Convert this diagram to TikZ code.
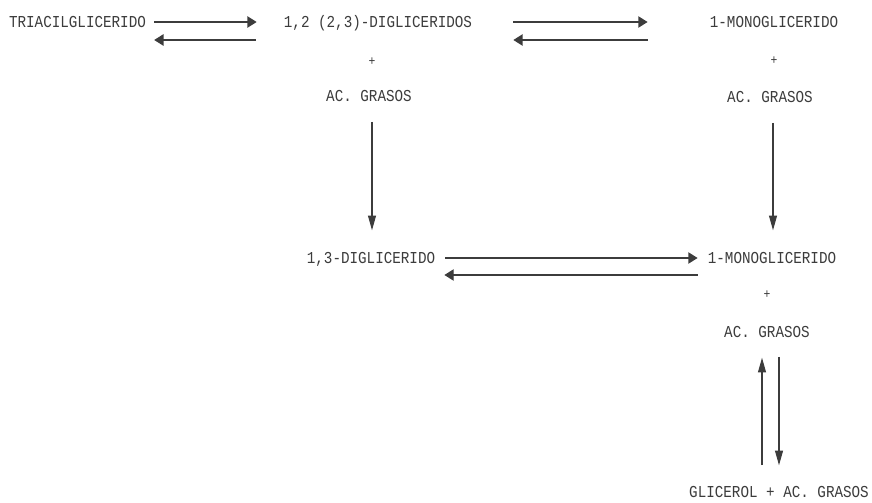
\documentclass[tikz,border=0pt]{standalone}
\usepackage{fontspec}
\newfontfamily\plotfont[FakeStretch=0.855]{Liberation Mono}
\usetikzlibrary{arrows.meta,calc}
\definecolor{ink}{RGB}{60,60,60}
\begin{document}
\begin{tikzpicture}[x=0.75pt,y=-0.75pt,
  lbl/.style={inner sep=0pt, font=\plotfont\fontsize{12.5pt}{14pt}\selectfont, text=ink, text height=8.25pt, text depth=0pt},
  pls/.style={inner sep=0pt, font=\plotfont\fontsize{10pt}{12pt}\selectfont, text=ink},
  harr/.style={draw=ink, line width=1.1pt, -{Triangle[length=7pt,width=8.5pt]}},
  varr/.style={draw=ink, line width=0.8pt, -{Triangle[length=11pt,width=6pt]}}
]
\useasboundingbox[fill=white] (0,0) rectangle (872,503);
% nodes
\node[lbl] (tri)   at (77.5,22) {TRIACILGLICERIDO};
\node[lbl] (dig12) at (378,22)  {1,2 (2,3)-DIGLICERIDOS};
\node[pls] (plus1) at (372,62)  {+};
\node[lbl] (ac1)   at (369,96)  {AC. GRASOS};
\node[lbl] (mono1) at (774,22)  {1-MONOGLICERIDO};
\node[pls] (plus2) at (774,61)  {+};
\node[lbl] (ac2)   at (770,97)  {AC. GRASOS};
\node[lbl] (dig13) at (371,258) {1,3-DIGLICERIDO};
\node[lbl] (mono2) at (772,258) {1-MONOGLICERIDO};
\node[pls] (plus3) at (767,295) {+};
\node[lbl] (ac3)   at (767,332) {AC. GRASOS};
\node[lbl] (gly)   at (779,492) {GLICEROL + AC. GRASOS};
% top row
\draw[harr] ($(tri.east)+(8,0)$) -- ($(tri.east -| dig12.west)+(-27,0)$);
\draw[harr] ($(tri.east -| dig12.west)+(-28,18)$) -- ($(tri.east)+(8,18)$);
\draw[harr] ($(dig12.east)+(41,0)$) -- ($(dig12.east -| mono1.west)+(-62,0)$);
\draw[harr] ($(dig12.east -| mono1.west)+(-62,18)$) -- ($(dig12.east)+(41,18)$);
% down arrows
\draw[varr] ($(ac1.south -| dig13.north)+(1,20)$) -- ($(dig13.north)+(1,-22)$);
\draw[varr] ($(ac2.south -| mono2.north)+(1,20)$) -- ($(mono2.north)+(1,-22)$);
% middle row
\draw[harr] ($(dig13.east)+(10,0)$) -- ($(dig13.east -| mono2.west)+(-10,0)$);
\draw[harr] ($(dig13.east -| mono2.west)+(-10,17)$) -- ($(dig13.east)+(9,17)$);
% bottom pair
\draw[varr] ($(gly.north -| ac3.south)+(-5,-21)$) -- ($(ac3.south)+(-5,20)$);
\draw[varr] ($(ac3.south)+(12,19)$) -- ($(gly.north -| ac3.south)+(12,-21)$);
\end{tikzpicture}
\end{document}
